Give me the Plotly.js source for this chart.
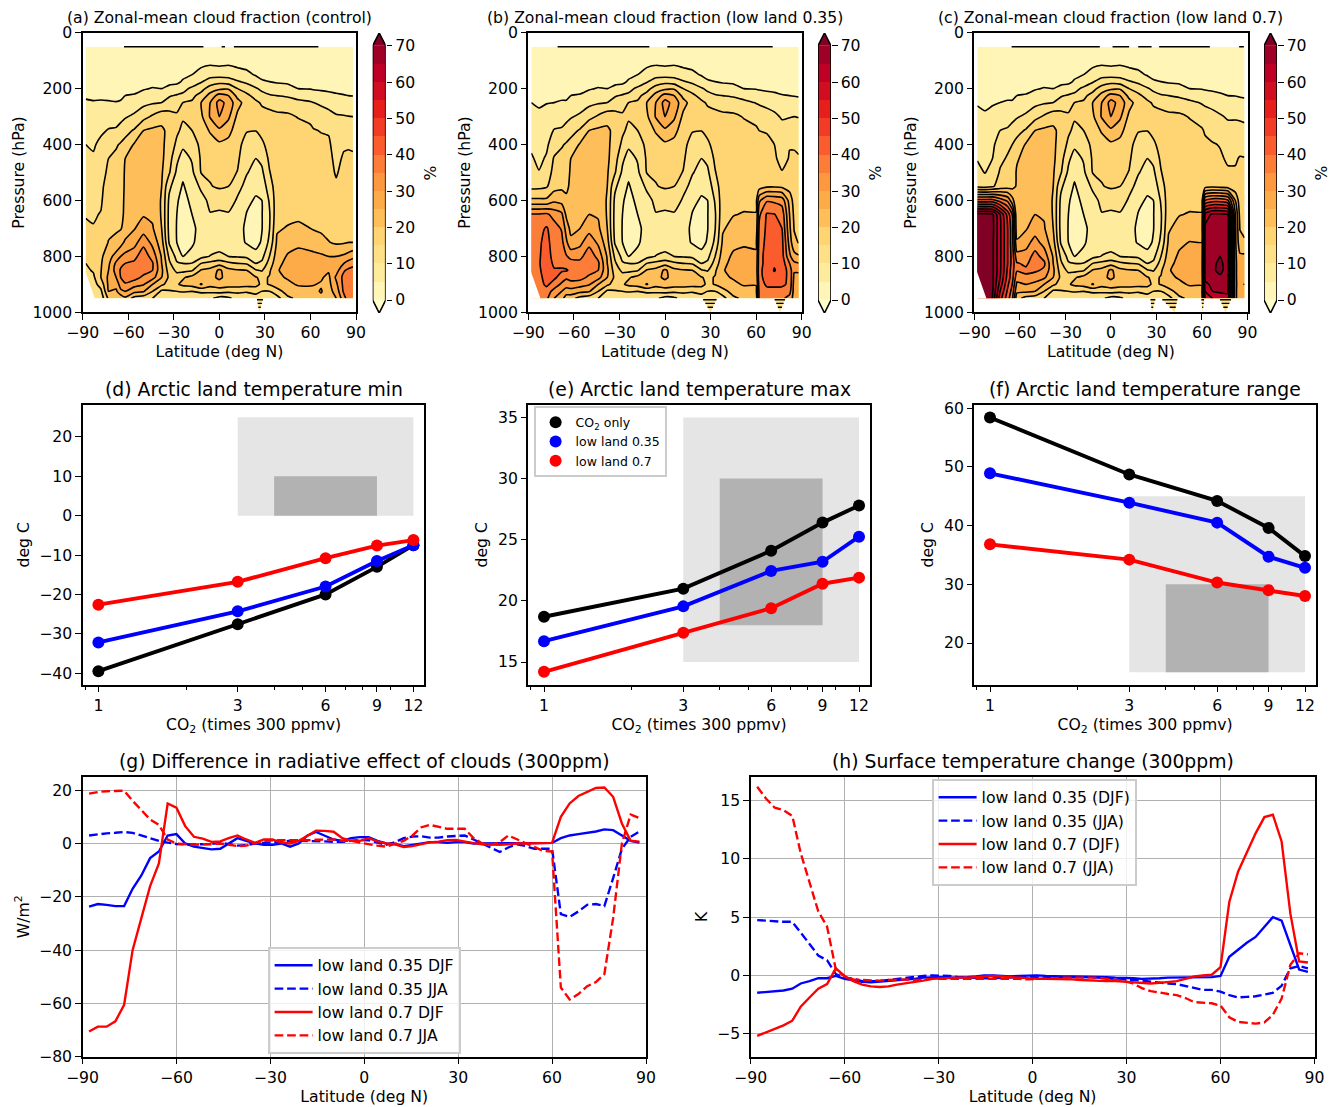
<!DOCTYPE html>
<html><head><meta charset="utf-8">
<script src="https://cdn.plot.ly/plotly-3.0.1.min.js"></script>
<style>html,body{margin:0;padding:0;background:#fff}#chart{width:1336px;height:1107px}</style>
</head><body><div id="chart"></div>
<script>
// ---- cloud fraction grids: one inner array per latitude, values by pressure level ----
const pressure = [50,100,150,175,200,225,250,300,350,400,450,500,550,600,650,700,750,800,825,850,875,900,925,950];
const latSouth = [-88,-83,-78,-73,-68,-65,-62,-56,-50,-44];
const latTropics = [-38,-33,-28,-24,-18,-12,-6,0,6,12,18,24,28,33,38];
const latNorth = [45,52,60,62,67,72,77,82,85,88];
const cloudTropics = [
[1,2,3,4,5,7.5,10,18,21,21,21,20.5,20,19.5,19.5,20,22,24.5,25,26,25,21,14,11],
[1,2,3,4,6,9.5,12,17,18.5,18,17,15.5,11,9,8.5,8.5,9.5,14,16,17.5,19,18,14.5,10.4],
[1,2,3.5,4,7,10.5,13,15.8,15.8,14,11,9,7,5.5,5,4.8,5,8.5,10.5,14,17,19.5,15,10.4],
[1,3,4,5.5,8.5,11,15,15.5,14,11,8,6,4.5,3.5,3,3,3.5,5,10,13.5,19.5,21,15.5,10.4],
[1,3,5,7,11,14,15.5,15.5,15,13,10.5,9,7.5,6,5,4,4.5,6,10.2,14.5,21.5,22,15,12],
[1,3.5,6.5,9.5,13.5,16.5,20,19,17.5,16,15.6,15.2,10.8,8.5,7,6.5,6.5,8.5,15,20.5,23,25.3,16,11.5],
[1,3.5,8,12.5,17,22,25,25.5,20.5,18,16.5,15.5,14.8,11,9.8,7.5,7.5,10.2,16.5,21.5,23.5,22,16,11],
[1,3,8,13.5,19,27,32,30,24,19,18,17,15.5,12.3,9,7.5,8,11,18,26,26,23,17,8],
[1,3.5,8,12.5,19.5,25,28,26,21.5,18.5,17.5,16.5,15,12.5,9.5,7.5,8,10,16,21.5,23,22.5,16,9],
[1,3.5,6.5,10.5,15,18.5,22,18.8,17.5,16.5,15.8,14.8,11.5,9.3,8,7,7,9.5,15,20.5,23,22.5,16,12],
[1,3,6,9,13,16,17.5,16.5,15.3,13,11.5,10.3,8.5,6,4.8,4,4.5,9,14.5,20,22,22,15.5,12],
[1,2.5,4.6,7,10.5,13.5,15.8,16.2,15.1,12.5,10,8.5,6,4.5,3.5,3,3.5,6.5,10,15.5,20.3,21.5,17,12],
[1,2.5,3.8,5.5,9,11.5,14.5,16.5,16.5,14,11.2,9,7,5,4.8,4.8,5.5,8.5,11,14.5,19,19,15,11],
[1,2,3.5,5,7.5,10.5,13,17,18,17,16,14.7,12.5,10.5,9.5,9.8,11.2,15,17,19.3,20.3,20.3,15,11],
[1,2,3.5,4.5,7,10,13,16,17.5,18,18,18,18,18,18.5,19.5,20.8,22.5,23.5,24.5,24,22.5,18,13]
];
const cloudSouthA = [
[1,1.5,2,2.5,3.5,4.5,5.5,7,8.5,10,11,12,13,14,14.8,15.5,16,16,15,14,13,12,12,12],
[1,1.5,2,2.5,3.5,4.5,5.2,7,8.5,9.5,10.5,12,13,14,14.6,15.2,16,17,16.5,15.5,14,13,12.5,12.5],
[1,1.5,2,2.5,3.5,4.5,5.3,7.5,9.3,11,12,13,14,14.5,15.2,16,17.5,19,19.5,19.8,20,17,14,12],
[1,1.5,2,2.5,3.5,4.5,5.2,8,10.3,13,15,16,17,17.5,18,19,20.2,23,24,25,26,26,25,21],
[1,1.5,2.5,3,3.7,4.4,5.1,8,10.6,14.5,16,17,18,18.5,19,19.5,21,27,31,32,30,27,24,21],
[1,1.5,2.5,3,4,4.6,5.2,8.5,12,15.5,17,18,18.5,19,19.3,19.7,23,30,34,35.5,35,32,29,21],
[1,2,3,3.5,4.5,5,6,9.5,13.5,16.5,20,20.5,20.5,20.5,20.5,21.5,26,31.5,35,37,37,34.5,30,24],
[1,2,3,3.8,4.3,5.2,7,11,15.5,20.5,21.5,22,22,22.5,23,24.7,28,33.5,36,38,37,32,26.5,18],
[1,2,3,3.8,4.7,6.2,8.7,13.3,20,22,22.5,23,23.5,24,24.5,27.5,33.5,38,39,37,34,30.5,25.5,17],
[1,2,3,4,5.2,7.5,9.5,15.7,21,22.5,23,23,23.5,23.5,24,25.5,28.5,33,35.5,35,32,25,20,15]
];
const cloudSouthB = [
[1,1.5,2,2.5,3.3,4.2,5,6.5,7.8,9.2,10.5,12,13.7,21,35.5,37,39,38,37,37,37,37,37,37],
[1,1.5,2,2.5,3,3.8,4.5,5.8,7.3,8.2,9,10.2,13.8,21,35.5,38.5,39.5,39.5,39.5,39,38.5,38,38,38],
[1,1.5,2,2.5,3.2,4.2,4.9,6,8,9.2,10.5,12.5,14.5,21,36,40.5,41,42,43,43,42,41,38,36],
[1,1.5,2,2.5,3.2,4.3,5,7.5,10.3,12.5,15.5,16.5,18,24,33,37.5,38.5,38.5,39,40.5,41,38,33,30],
[1,1.5,2.5,3,3.8,4.6,5.2,8,10.6,14.5,16.5,18,19,23,31,34.5,36.5,38,39,40.5,38,34,30,27],
[1,1.5,2.5,3,4,4.6,5.2,8.5,12,15.5,17,18.5,19.5,20.5,24,28,31,35.5,38,40.5,36,32,28,22],
[1,2,3,3.5,4.5,5,6,9.5,13.5,16.5,20,20.5,20.5,20.5,21.5,23.5,26.5,33.5,37,39,37,33,28,22],
[1,2,3,3.8,4.3,5.2,7,11,15.5,20.5,21.5,22,22,22.5,23,25,28.5,33.5,36.5,38,37,32,26.5,18],
[1,2,3,3.8,4.7,6.2,8.7,13.3,20,22,22.5,23,23.5,24,25,28,33.5,38,39,37,34,30.5,25.5,17],
[1,2,3,4,5.2,7.5,9.5,15.7,21,22.5,23,23,23.5,23.5,24.5,26,29,33.5,36,35,32,25,20,15]
];
const cloudSouthC = [
[1,1.5,2,2.5,3.3,4,4.7,6,7.3,8.7,9.7,11.5,14,42,72,73,74,74,74,74,74,74,74,74],
[1,1.5,2,2.5,3,3.6,4.3,5.5,6.8,7.8,8.8,9.8,13.5,42,71.5,73,73,73,73,73,73,73,73,73],
[1,1.5,2,2.5,3.2,4,4.7,6,7.5,9,10,12,14.5,42,71,71.5,71,71,71,71,71,71,70.5,70],
[1,1.5,2,2.5,3.2,4.1,5,7.5,10,12.5,14,15.5,17,38,60,61,61,61,61,61,60,58,55,52],
[1,1.5,2.5,3,3.8,4.6,5.2,8,10.6,14,15.5,16.5,18,34,48,50,50,50,50,49,48,46,44,42],
[1,1.5,2.5,3,4,4.6,5.2,8.5,12,15,16.5,17.5,18.5,27,40,42,42,43,43,42,42,40,38,36],
[1,2,3,3.5,4.5,5,6,9.5,13.5,16.5,19.5,20.5,20.5,20.5,20.5,21.5,26,32,35.5,35.5,32,29,26,22],
[1,2,3,3.8,4.3,5.2,7,11,15.5,20.5,21.5,22,22,22.5,23,24.5,28,32,34,36,34,30,26,18],
[1,2,3,3.8,4.7,6.2,8.7,13.3,20,22,22.5,23,23.5,24,25,27.5,32,37,38,36,32,29,25,17],
[1,2,3,4,5.2,7.5,9.5,15.7,21,22.5,23,23,23.5,23.5,24.5,25.5,28,33,36,34,31,25,20,15]
];
const cloudNorthA = [
[1,2,3.5,4.5,6,9.5,12,16,17.5,18,18,18,18,18.5,19,20.3,23,25.5,26.5,27,25.5,24,22,19],
[1,2,3,4,5,8.5,11,14.7,17,17.5,17.5,17.5,18,18.5,19.2,20.8,24,26.5,27,27.5,27,25.5,23,21],
[1,2,3,3.8,4.8,7.5,10.5,13.5,16.2,17,17,17.5,18,18.5,19,20,23.5,26,26.5,27,26.5,25.3,24,22],
[1,1.8,2.8,3.6,4.6,7,10,13,15.3,16.5,17,17,17.5,18,18.5,19.6,23,26,26.5,27,26,25.2,24,22],
[1,1.7,2.6,3.4,4.4,6.5,9.2,12.5,14.8,16,16.5,16.5,17,17.5,18,19,22,25.7,26.5,26.5,25.5,24.6,25.3,24],
[1,1.6,2.4,3.2,4.2,6,8.5,11.5,14.7,15.5,16,16,16.5,17,17.5,18.5,20.2,25,26,25.5,24,23.5,23,23],
[1,1.5,2.3,3,4,5.5,7.5,10.5,12.5,13.5,14,14.7,15.5,16,17,18,19.3,25,26.5,28,31,29,27,25],
[1,1.5,2.2,2.8,3.8,5.2,7,10.3,12.5,14.5,15.5,16,16.5,17,17.5,18.3,19.5,25.8,30,34.5,36.5,36.5,36,33],
[1,1.5,2.2,2.7,3.6,5,7,10.1,12.8,14.7,15.5,16,16.5,17.3,18,18.8,20,27,32,36,37.5,38,38,38],
[1,1.4,2,2.5,3.4,4.9,6.8,10,12.8,14.7,15.3,15.8,16.5,17.5,18.2,19,20,28.5,33.5,36.5,38,38.5,38.5,38]
];
const cloudNorthB = [
[1,2,3.5,4.5,6,9.5,12,16,17.5,18,18,18,18.5,19,19.8,21.5,23.5,26,26.8,27,25.5,24,22,19],
[1,2,3,4,5,8.5,11,14.7,16.5,17.5,17.5,17.5,18,18.8,20.3,21.8,24.3,26.5,27,27.5,27,25.5,23,21],
[1,1.8,2.8,3.8,4.8,7,9.8,13,16,16.5,17,17,17.5,18.5,20.3,21.5,24,26,26.5,26.8,26,25.2,24,22],
[1,1.8,2.8,3.6,4.6,6.5,9.5,12.5,15,16,16.7,17,17.8,29,34,36,37,38,38,38.5,38,37,36,36],
[1,1.8,2.6,3.4,4.4,6,8.7,12,14.8,15.7,16.3,16.5,19.3,34.5,40.5,41,41.5,42,42,42.5,42.5,41,38,37],
[1,1.7,2.5,3.2,4.2,5.7,8,11,14.5,15,15.7,16,19.5,34,40.2,42,43,43.5,44.5,45.3,43.5,41,38.5,37],
[1,1.6,2.3,3,4,5.2,7.3,9.5,11.7,12.5,13.5,15.3,19,33,38,40,41.5,42,43,43,41.5,41,38,36],
[1,1.5,2.2,2.8,3.8,5,6.8,9.8,12.3,14.8,15.3,15.8,18,23,25,26,28,31,35,38,39,39,37,33],
[1,1.5,2.2,2.7,3.6,4.8,6.8,10,12.5,14.8,15.3,16,17,18,19,19.8,21,27,31,30.5,29,28,28,28],
[1,1.4,2,2.5,3.4,4.6,6.5,9.8,12.3,14.5,15.2,15.8,16.5,17.5,18.3,19.2,19.8,25.5,30.3,30.5,29,28,28,28]
];
const cloudNorthC = [
[1,2,3.5,4.5,6,9.3,12,16,17.5,18,18,18,18.5,19,19.8,21.5,24,25.8,26.5,27,25.5,24,22,19],
[1,2,3,4,5,8,11,14.7,16.5,17.5,17.5,17.5,18,18.8,20.3,22,25.2,26.5,27,27.5,27,25.5,23,21],
[1,1.8,2.8,3.8,4.8,7,9.6,13,15.5,16.5,17,17,17.5,18.5,20.3,21.5,25,26,26.5,26.8,26,25.2,24,22],
[1,1.8,2.8,3.6,4.6,6.5,9.2,12.3,14.5,16,16.7,17,18,40,62,66,66.5,67,67,67,66,64,60,55],
[1,1.7,2.6,3.4,4.4,6,8.5,11.5,13.5,15.3,16,16.5,19,43,66,68,68.5,69,69,69,68,66,65,60],
[1,1.6,2.4,3.2,4.2,5.5,7.7,10.5,13,14.8,15.5,16,18.5,43,66,68,69,70,71,71.5,69,66.5,65.5,63],
[1,1.6,2.3,3,4,5,7,9.5,11.5,13,14.5,15.5,18,41,65,67,67.5,68,68,67.5,67,66.5,66,63],
[1,1.5,2.2,2.8,3.8,4.9,6.6,9.5,11.5,13.5,14.7,15.3,16.5,25,30,31,31,31,31,31,31,31,31,31],
[1,1.5,2.2,2.7,3.5,4.6,6.4,9.3,11.5,14,15.2,15.5,16,17,18.5,19.8,21.5,26,27,27,27,27.5,27,27],
[1,1.4,2,2.5,3.2,4.4,6.2,9,11.3,14,15.1,15.5,16,17,18,19,20.5,26,27,27,27,30.2,27,27]
];
// level-0 contour pieces along the 50 hPa edge
const topEdgeA = [-62.8,-10.5,null,1.5,3.7,null,9.6,65.2];
const topEdgeB = [-70.7,-10.3,null,1.5,70.9];
const topEdgeC = [-65.4,-7.3,null,1.1,12,null,18,26.8,null,31.8,65.2,null,84.5,87.6];
// small filled wedges of the contours below 950 hPa: [left, tip, right] latitude
const wedgesA = [[24.6,26.3,29]];
const wedgesB = [[24.6,30,34.4],[71.8,75.7,79.4]];
const wedgesC = [[26,27,29.5],[33,42,44],[59.5,60.5,61.5],[71.5,75.5,79.5]];
const cornerLat = [-88.6,-82,-88.6];
const cornerP = [850,950.5,950.5];
const bandEdges = [0,5,10,15,20,25,30,35,40,45,50,55,60,65,70];
const bandMid = [2.5,7.5,12.5,17.5,22.5,27.5,32.5,37.5,42.5,47.5,52.5,57.5,62.5,67.5];
const cloudColors = ['#ffffcc','#fff5b7','#ffeb9c','#fee187','#fed572','#febf5a','#fdaa48','#fd9740','#fc7d37','#fb5c2d','#f33c25','#e61f1d','#d00d21','#bf0026','#9f0026','#800026'];

// ---- Arctic land temperature ----
const co2 = [1,3,6,9,12];
const minBlack = [-39.5,-27.6,-20,-13,-7.5];
const minBlue = [-32.2,-24.3,-18,-11.5,-7.5];
const minRed = [-22.6,-16.8,-10.8,-7.6,-6.2];
const maxBlack = [18.7,21,24.1,26.4,27.8];
const maxBlue = [16.7,19.55,22.45,23.2,25.25];
const maxRed = [14.2,17.4,19.4,21.4,21.9];
const rangeBlack = [58.4,48.7,44.2,39.6,34.8];
const rangeBlue = [48.9,43.9,40.5,34.7,32.8];
const rangeRed = [36.8,34.2,30.3,29,28];

// ---- zonal-mean differences ----
const lat = [-87.9,-85.1,-82.3,-79.5,-76.7,-74,-71.2,-68.4,-65.6,-62.8,-60,-57.2,-54.4,-51.6,-48.8,-46,-43.3,-40.5,-37.7,-34.9,-32.1,-29.3,-26.5,-23.7,-20.9,-18.1,-15.4,-12.6,-9.8,-7,-4.2,-1.4,1.4,4.2,7,9.8,12.6,15.4,18.1,20.9,23.7,26.5,29.3,32.1,34.9,37.7,40.5,43.3,46,48.8,51.6,54.4,57.2,60,62.8,65.6,68.4,71.2,74,76.7,79.5,82.3,85.1,87.9];
const creBlueDJF = [-23.7,-22.7,-23,-23.5,-23.5,-17,-12,-5.5,-3,3,3.5,0,-1.2,-1.7,-2.2,-2,0,2,1,0,-0.5,-0.5,0,-1.2,0,3,4.3,3,1.5,1,2,2.4,2.4,1,0,-0.2,-1,-0.5,0,0.5,0.5,0.2,0.5,0.5,0,0,0,0.2,0.2,0.2,0.2,0.2,0.2,0.2,2,3,3.5,4,4.5,5.3,5,3,1,0.3];
const creBlueJJA = [3,3.5,3.8,4,4.3,4,3,1.8,1,0.3,-0.2,-0.4,-0.3,-0.3,-0.2,0.3,-0.3,-0.8,-0.6,0,0.2,0.3,0.6,1,1,0.8,0.8,0.8,0.6,0.6,1,1.3,1.2,0.3,-0.5,0.5,2,2.6,2.7,2.2,2.2,2.6,2.8,3,1.5,0,-1.5,-3.2,-1.5,-0.3,-1,-2,-2,-2,-26.5,-27.5,-25.5,-23,-22.7,-23.5,-13,-2,2.5,4.5];
const creRedDJF = [-70.5,-68.7,-68.7,-66.7,-60.5,-40,-28,-16,-7.5,15,13.4,6.5,2.5,1.8,0.6,0.8,2,3,1.5,0.2,1.5,1.5,0.3,0,1,3,4.8,4.7,4.4,2,1,1,2,0.8,0,-0.3,-1.3,-1,-0.2,0.4,0.7,1.2,1.3,0.6,0.1,-0.3,-0.5,-0.5,-0.3,0,0,0,0,0.2,10,15,17.8,19.2,20.8,21,17.5,7.5,1,0.7];
const creRedJJA = [18.7,19.3,19.6,19.7,19.8,16,12.5,9,7,1.5,0,-0.3,-0.5,-0.3,-0.3,0,-0.5,-1,-0.8,0,1,1.2,1.2,1,1,1.2,1.4,1.5,1.5,1,1,0.3,-0.3,-0.8,-1.2,0,1,3,6,7,6.3,5.5,5.5,5.5,2,0,-0.5,0.5,3,1.5,0,-1.5,-2.8,-3,-54,-58.5,-56.5,-53.5,-52,-49,-28,0,10.8,9.5];
const tsBlueDJF = [-1.5,-1.45,-1.4,-1.3,-1.15,-0.7,-0.5,-0.25,-0.25,-0.05,-0.3,-0.45,-0.55,-0.6,-0.55,-0.5,-0.45,-0.35,-0.3,-0.2,-0.15,-0.15,-0.2,-0.2,-0.15,-0.1,0,0,-0.05,-0.1,-0.05,0,0,-0.05,-0.1,-0.1,-0.1,-0.1,-0.15,-0.15,-0.15,-0.2,-0.2,-0.25,-0.3,-0.3,-0.25,-0.2,-0.2,-0.15,-0.15,-0.15,-0.15,-0.05,1.6,2.2,2.8,3.3,4.2,5,4.7,2.6,0.5,0.3];
const tsBlueJJA = [4.75,4.7,4.6,4.6,4.6,3.7,2.7,1.7,1.3,0.1,-0.2,-0.3,-0.5,-0.5,-0.5,-0.4,-0.3,-0.2,-0.1,-0.05,0,0,-0.05,-0.15,-0.2,-0.25,-0.25,-0.25,-0.2,-0.15,-0.15,-0.15,-0.2,-0.2,-0.2,-0.15,-0.15,-0.15,-0.15,-0.2,-0.25,-0.3,-0.3,-0.35,-0.45,-0.55,-0.65,-0.7,-0.75,-0.9,-1.1,-1.25,-1.25,-1.4,-1.7,-1.9,-1.85,-1.8,-1.65,-1.5,-0.9,0.6,0.8,0.6];
const tsRedDJF = [-5.2,-4.9,-4.6,-4.3,-3.9,-2.7,-1.9,-1.15,-0.75,0.6,-0.05,-0.5,-0.8,-0.95,-1,-0.95,-0.8,-0.7,-0.6,-0.45,-0.3,-0.25,-0.2,-0.2,-0.2,-0.15,-0.1,-0.05,-0.1,-0.15,-0.25,-0.3,-0.3,-0.3,-0.3,-0.35,-0.35,-0.4,-0.45,-0.45,-0.5,-0.5,-0.55,-0.65,-0.7,-0.7,-0.65,-0.6,-0.5,-0.3,-0.1,0,0.05,0.7,6.3,8.9,10.6,12.2,13.6,13.8,11.5,5.3,1.2,1.1];
const tsRedJJA = [16.2,15.2,14.4,14.2,13.7,10.5,8,5.5,4.2,0.5,-0.1,-0.35,-0.4,-0.45,-0.45,-0.4,-0.35,-0.35,-0.4,-0.4,-0.3,-0.3,-0.25,-0.25,-0.25,-0.3,-0.3,-0.3,-0.3,-0.3,-0.3,-0.35,-0.3,-0.25,-0.25,-0.2,-0.2,-0.2,-0.15,-0.2,-0.3,-0.4,-0.5,-0.7,-1.1,-1.35,-1.5,-1.6,-1.7,-1.95,-2.3,-2.35,-2.4,-2.6,-3.6,-4,-4.1,-4.15,-4.05,-3.4,-2,0.9,1.9,1.8];

const W = 1336, H = 1107, FONT = 'DejaVu Sans';
const TICK = 15.66, spine = 1.6;
const latTicks = [-90,-60,-30,0,30,60,90];
const fx = px => px / W, fy = py => 1 - py / H;
const domX = (a,b) => [fx(a), fx(b)], domY = (t,b) => [fy(b), fy(t)];
const legendBox = {xanchor:'left',yanchor:'top',bgcolor:'rgba(255,255,255,0.8)',bordercolor:'#cccccc',borderwidth:1.6};

const layout = {
  width: W, height: H, margin: {l:0,r:0,t:0,b:0,autoexpand:false},
  paper_bgcolor:'#fff', plot_bgcolor:'#fff', hovermode:false,
  font:{family:FONT,size:TICK,color:'#000'}, shapes:[], annotations:[],
  legend:Object.assign({x:fx(534),y:fy(406),font:{family:FONT,size:12.5},tracegroupgap:0},legendBox),
  legend2:Object.assign({x:fx(268),y:fy(947),font:{family:FONT,size:15.66},itemwidth:38},legendBox),
  legend3:Object.assign({x:fx(932),y:fy(779),font:{family:FONT,size:15.66},itemwidth:38},legendBox)
};
function axisBase(extra){
  return Object.assign({showline:true,linecolor:'#000',linewidth:spine,mirror:true,ticks:'outside',ticklen:5.5,tickwidth:1.3,tickcolor:'#000',
    showgrid:false,zeroline:false,tickfont:{family:FONT,size:TICK,color:'#000'},tickmode:'array',automargin:false},extra);
}
const axisTitle = (text,standoff) => ({text,standoff,font:{family:FONT,size:TICK,color:'#000'}});
function title(text,cx,cy,size){
  layout.annotations.push({text,x:fx(cx),y:fy(cy),xref:'paper',yref:'paper',xanchor:'center',yanchor:'middle',showarrow:false,font:{family:FONT,size,color:'#000'}});
}
const traces = [];
const colorscale = cloudColors.map((c,i)=>[i/15,c]);

function cloudPanel(n,left,right,south,north,edge,wedges,label,cbLeft,cbN){
  const xa='x'+(n===1?'':n), ya='y'+(n===1?'':n);
  layout['xaxis'+(n===1?'':n)] = axisBase({domain:domX(left,right),range:[-90,90],anchor:ya,tickvals:latTicks,ticktext:latTicks.map(String).map(s=>s.replace('-','\u2212')),title:axisTitle('Latitude (deg N)',4)});
  layout['yaxis'+(n===1?'':n)] = axisBase({domain:domY(32.7,312.3),range:[1000,0],anchor:xa,tickvals:[0,200,400,600,800,1000],title:axisTitle('Pressure (hPa)',4)});
  const cols = south.concat(cloudTropics,north);
  const x = latSouth.concat(latTropics,latNorth);
  const z = pressure.map((p,r)=>cols.map(c=>c[r]));
  const contours = {start:0,end:70,size:5};
  traces.push({type:'contour',x,y:pressure,z,xaxis:xa,yaxis:ya,autocontour:false,showscale:false,showlegend:false,colorscale,hoverinfo:'skip',
    contours:Object.assign({coloring:'fill',showlines:false},contours),line:{width:0,smoothing:0.5}});
  traces.push({type:'contour',x,y:pressure,z,xaxis:xa,yaxis:ya,autocontour:false,showscale:false,showlegend:false,hoverinfo:'skip',
    contours:Object.assign({coloring:'none',showlines:true},contours),line:{color:'#000',width:1.6,smoothing:0.5}});
  traces.push({type:'scatter',mode:'lines',x:edge,y:edge.map(v=>v===null?null:50),xaxis:xa,yaxis:ya,line:{color:'#000',width:1.6},showlegend:false,hoverinfo:'skip'});
  traces.push({type:'scatter',mode:'lines',x:cornerLat,y:cornerP,fill:'toself',fillcolor:'#fff',line:{width:0,color:'#fff'},xaxis:xa,yaxis:ya,showlegend:false,hoverinfo:'skip'});
  wedges.forEach(w=>{
    traces.push({type:'scatter',mode:'lines',x:[w[0],w[1],w[2]],y:[950,1000,950],fill:'toself',fillcolor:'#fee187',line:{width:0,color:'#fee187'},xaxis:xa,yaxis:ya,showlegend:false,hoverinfo:'skip'});
    const sx=[],sy=[];
    [955,968,982].forEach(p=>{const t=(p-950)/50; sx.push(w[0]+(w[1]-w[0])*t,w[2]+(w[1]-w[2])*t,null); sy.push(p,p,null);});
    traces.push({type:'scatter',mode:'lines',x:sx,y:sy,line:{color:'#000',width:1.4},xaxis:xa,yaxis:ya,showlegend:false,hoverinfo:'skip'});
  });
  title(label,(left+right)/2,17,15.66);
  // discrete colour bar with extension arrows on its own small axes
  const cx='x'+cbN, cy='y'+cbN;
  layout['xaxis'+cbN]={domain:domX(cbLeft,cbLeft+13),range:[0,1],anchor:cy,showline:false,showgrid:false,zeroline:false,ticks:'',showticklabels:false,fixedrange:true};
  layout['yaxis'+cbN]=axisBase({domain:domY(33,313),range:[-3.58,73.5],anchor:cx,side:'right',mirror:false,showline:false,tickvals:[0,10,20,30,40,50,60,70],title:axisTitle('%',10)});
  traces.push({type:'heatmap',x:[0,1],y:bandEdges,z:bandMid.map(v=>[v]),xaxis:cx,yaxis:cy,zmin:-2.5,zmax:72.5,colorscale,showscale:false,hoverinfo:'skip'});
  traces.push({type:'scatter',mode:'lines',x:[0,0.5,1,0],y:[0,-3.58,0,0],fill:'toself',fillcolor:cloudColors[0],line:{width:0},xaxis:cx,yaxis:cy,showlegend:false,hoverinfo:'skip'});
  traces.push({type:'scatter',mode:'lines',x:[0,0.5,1,0],y:[70,73.5,70,70],fill:'toself',fillcolor:cloudColors[15],line:{width:0},xaxis:cx,yaxis:cy,showlegend:false,hoverinfo:'skip'});
  traces.push({type:'scatter',mode:'lines',x:[0,0.5,1,1,0.5,0,0],y:[0,-3.58,0,70,73.5,70,0],line:{color:'#000',width:1.6},cliponaxis:false,xaxis:cx,yaxis:cy,showlegend:false,hoverinfo:'skip'});
}
cloudPanel(1,82.7,356,cloudSouthA,cloudNorthA,topEdgeA,wedgesA,'(a) Zonal-mean cloud fraction (control)',372.7,9);
cloudPanel(2,528.3,801.7,cloudSouthB,cloudNorthB,topEdgeB,wedgesB,'(b) Zonal-mean cloud fraction (low land 0.35)',818,10);
cloudPanel(3,974.3,1247.5,cloudSouthC,cloudNorthC,topEdgeC,wedgesC,'(c) Zonal-mean cloud fraction (low land 0.7)',1264,11);

function tempPanel(n,left,yRange,yTicks,black,blue,red,boxes,label,withLegend){
  const xa='x'+n, ya='y'+n, right=left+341.7;
  layout['xaxis'+n]=axisBase({type:'log',domain:domX(left,right),range:[-0.0538,1.1168],anchor:ya,tickvals:co2,ticktext:co2.map(String),
    minor:{tickmode:'array',tickvals:[0.9,2,4,5,7,8,10],ticks:'outside',ticklen:3.2,tickwidth:1,tickcolor:'#000',showgrid:false},
    title:axisTitle('CO<sub>2</sub> (times 300 ppmv)',4)});
  layout['yaxis'+n]=axisBase({domain:domY(404.6,685),range:yRange,anchor:xa,tickvals:yTicks,ticktext:yTicks.map(v=>String(v).replace('-','\u2212')),title:axisTitle('deg C',6)});
  boxes.forEach(b=>layout.shapes.push({type:'rect',layer:'below',xref:xa,yref:ya,x0:b[0],x1:b[1],y0:b[2],y1:b[3],fillcolor:b[4],line:{width:0}}));
  [[black,'#000','CO<sub>2</sub> only'],[blue,'#0000ff','low land 0.35'],[red,'#ff0000','low land 0.7']].forEach(s=>{
    traces.push({type:'scatter',mode:'lines',x:co2,y:s[0],xaxis:xa,yaxis:ya,line:{color:s[1],width:3.9},showlegend:false,hoverinfo:'skip'});
    traces.push({type:'scatter',mode:'markers',x:co2,y:s[0],xaxis:xa,yaxis:ya,marker:{color:s[1],size:12},name:s[2],showlegend:withLegend,legend:'legend',hoverinfo:'skip'});
  });
  title(label,left+341.7/2,389,18.8);
}
const light='#e5e5e5', dark='#b2b2b2';
tempPanel(4,82.7,[-43,28.2],[-40,-30,-20,-10,0,10,20],minBlack,minBlue,minRed,[[3,12,0,25,light],[4,9,0,10,dark]],'(d) Arctic land temperature min',false);
tempPanel(5,528.3,[13.12,36.05],[15,20,25,30,35],maxBlack,maxBlue,maxRed,[[3,12,15,35,light],[4,9,18,30,dark]],'(e) Arctic land temperature max',true);
tempPanel(6,974.3,[12.85,60.6],[20,30,40,50,60],rangeBlack,rangeBlue,rangeRed,[[3,12,15,45,light],[4,9,15,30,dark]],'(f) Arctic land temperature range',false);

function zonalPanel(n,left,right,yRange,yTicks,yTitle,series,names,legendId,label){
  const xa='x'+n, ya='y'+n;
  const grid={showgrid:true,gridcolor:'#b0b0b0',gridwidth:1.4};
  layout['xaxis'+n]=axisBase(Object.assign({domain:domX(left,right),range:[-90,90],anchor:ya,tickvals:latTicks,ticktext:latTicks.map(v=>String(v).replace('-','\u2212')),title:axisTitle('Latitude (deg N)',4)},grid));
  layout['yaxis'+n]=axisBase(Object.assign({domain:domY(776.8,1056.8),range:yRange,anchor:xa,tickvals:yTicks,ticktext:yTicks.map(v=>String(v).replace('-','\u2212')),title:axisTitle(yTitle,6)},grid));
  const styles=[['#0000ff','solid'],['#0000ff','8.7px,3.8px'],['#ff0000','solid'],['#ff0000','8.7px,3.8px']];
  series.forEach((y,i)=>traces.push({type:'scatter',mode:'lines',x:lat,y,xaxis:xa,yaxis:ya,line:{color:styles[i][0],dash:styles[i][1],width:2.36},name:names[i],legend:legendId,showlegend:true,hoverinfo:'skip'}));
  title(label,(left+right)/2,761,18.8);
}
zonalPanel(7,82.5,646,[-80,25],[-80,-60,-40,-20,0,20],'W/m<sup>2</sup>',[creBlueDJF,creBlueJJA,creRedDJF,creRedJJA],['low land 0.35 DJF','low land 0.35 JJA','low land 0.7 DJF','low land 0.7 JJA'],'legend2','(g) Difference in radiative effect of clouds (300ppm)');
zonalPanel(8,750.6,1314.5,[-7,17.06],[-5,0,5,10,15],'K',[tsBlueDJF,tsBlueJJA,tsRedDJF,tsRedJJA],['low land 0.35 (DJF)','low land 0.35 (JJA)','low land 0.7 (DJF)','low land 0.7 (JJA)'],'legend3','(h) Surface temperature change (300ppm)');

Plotly.newPlot('chart',traces,layout,{displayModeBar:false,responsive:false});
</script></body></html>
